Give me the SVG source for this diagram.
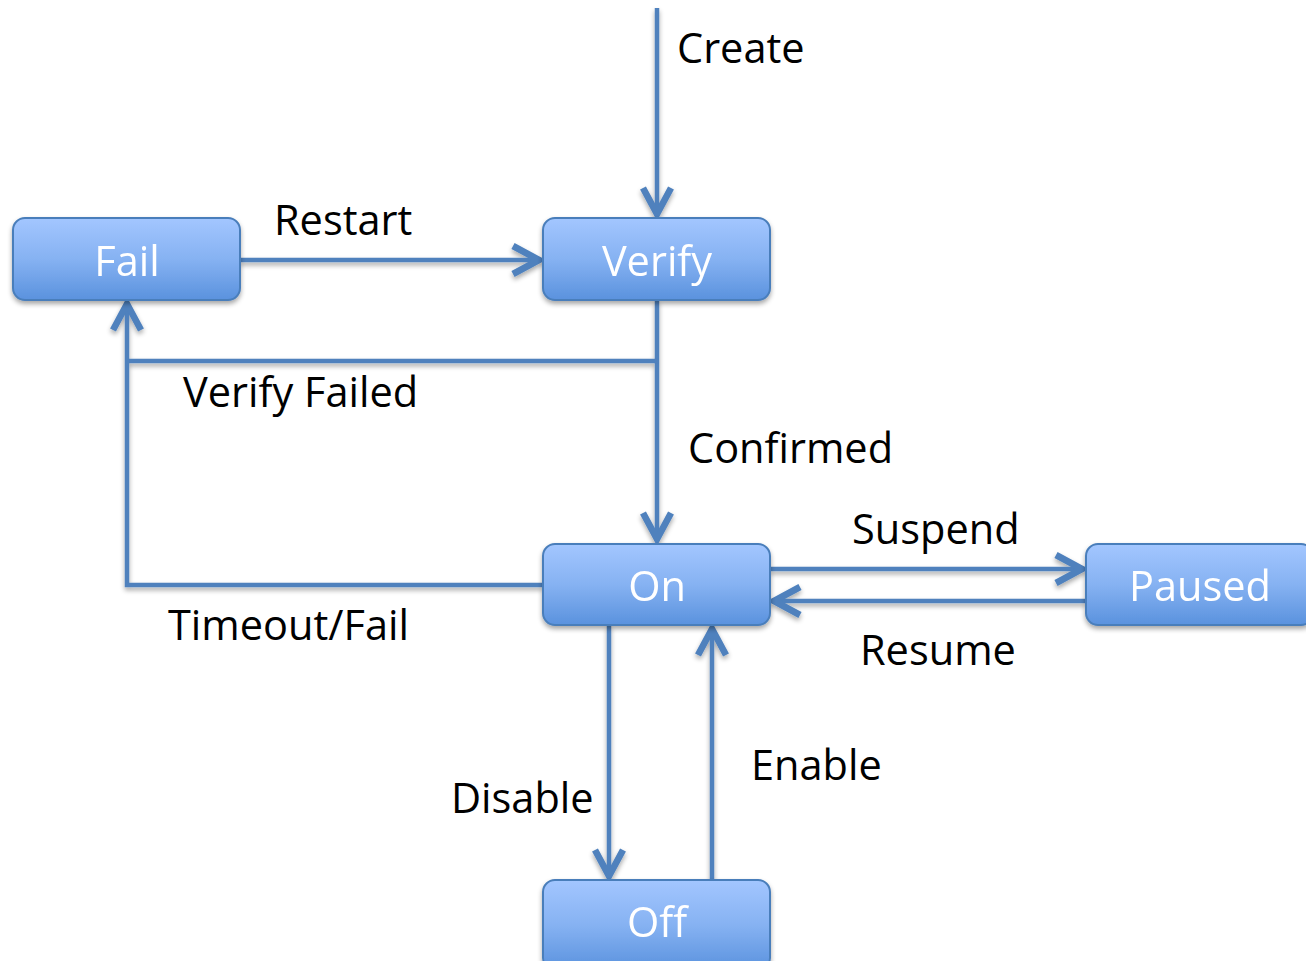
<svg xmlns="http://www.w3.org/2000/svg" width="1306" height="961" viewBox="0 0 1306 961">
  <defs>
    <linearGradient id="g" x1="0" y1="0" x2="0" y2="1">
      <stop offset="0" stop-color="#a3c6ff"/>
      <stop offset="0.5" stop-color="#86b2f2"/>
      <stop offset="1" stop-color="#5a92de"/>
    </linearGradient>
    <filter id="sh" x="-10%" y="-10%" width="120%" height="140%">
      <feGaussianBlur in="SourceAlpha" stdDeviation="2.5"/>
      <feOffset dx="0" dy="3" result="b"/>
      <feComponentTransfer><feFuncA type="linear" slope="0.35"/></feComponentTransfer>
      <feMerge><feMergeNode/><feMergeNode in="SourceGraphic"/></feMerge>
    </filter>
    <marker id="arr" markerUnits="userSpaceOnUse" markerWidth="40" markerHeight="40" viewBox="-25 -15 30 30" refX="0" refY="0" orient="auto">
      <path d="M-21,-10.5 L-1.5,0 L-21,10.5" fill="none" stroke="#4f81bd" stroke-width="5" stroke-linejoin="miter"/>
    </marker>
    <style>
      .node rect { fill: url(#g); stroke: #4a7ebb; stroke-width: 2; }
      .node text { fill: #ffffff; font-family: "Open Sans", "Liberation Sans", sans-serif; font-size: 41.5px; text-anchor: middle; }
      .lbl { fill: #000000; font-family: "Open Sans", "Liberation Sans", sans-serif; font-size: 41.5px; }
      .c { fill: none; stroke: #4f81bd; stroke-width: 4.5; }
    </style>
  </defs>
  <rect width="1306" height="961" fill="#ffffff"/>

  <g id="connectors" filter="url(#sh)">
    <path class="c" d="M657,8 V216" marker-end="url(#arr)"/>
    <path class="c" d="M240,260 H541" marker-end="url(#arr)"/>
    <path class="c" d="M657,300 V541" marker-end="url(#arr)"/>
    <path class="c" d="M659,361 H127"/>
    <path class="c" d="M543,585 H127 V302" marker-end="url(#arr)"/>
    <path class="c" d="M770,569 H1084" marker-end="url(#arr)"/>
    <path class="c" d="M1086,601 H772" marker-end="url(#arr)"/>
    <path class="c" d="M609,625 V878" marker-end="url(#arr)"/>
    <path class="c" d="M712,880 V627" marker-end="url(#arr)"/>
  </g>

  <g id="node-fail" class="node" filter="url(#sh)">
    <rect x="13" y="218" width="227" height="82" rx="12"/>
    <text x="127" y="276">Fail</text>
  </g>
  <g id="node-verify" class="node" filter="url(#sh)">
    <rect x="543" y="218" width="227" height="82" rx="12"/>
    <text x="657" y="276">Verify</text>
  </g>
  <g id="node-on" class="node" filter="url(#sh)">
    <rect x="543" y="544" width="227" height="81" rx="12"/>
    <text x="657" y="601">On</text>
  </g>
  <g id="node-paused" class="node" filter="url(#sh)">
    <rect x="1086" y="544" width="227" height="81" rx="12"/>
    <text x="1200" y="601">Paused</text>
  </g>
  <g id="node-off" class="node" filter="url(#sh)">
    <rect x="543" y="880" width="227" height="90" rx="12"/>
    <text x="657" y="937">Off</text>
  </g>

  <g id="labels">
    <text class="lbl" x="677" y="63">Create</text>
    <text class="lbl" x="274" y="235">Restart</text>
    <text class="lbl" x="183" y="407">Verify Failed</text>
    <text class="lbl" x="688" y="463">Confirmed</text>
    <text class="lbl" x="852" y="544">Suspend</text>
    <text class="lbl" x="860" y="665">Resume</text>
    <text class="lbl" x="168" y="640">Timeout/Fail</text>
    <text class="lbl" x="451" y="813">Disable</text>
    <text class="lbl" x="751" y="780">Enable</text>
  </g>
</svg>
